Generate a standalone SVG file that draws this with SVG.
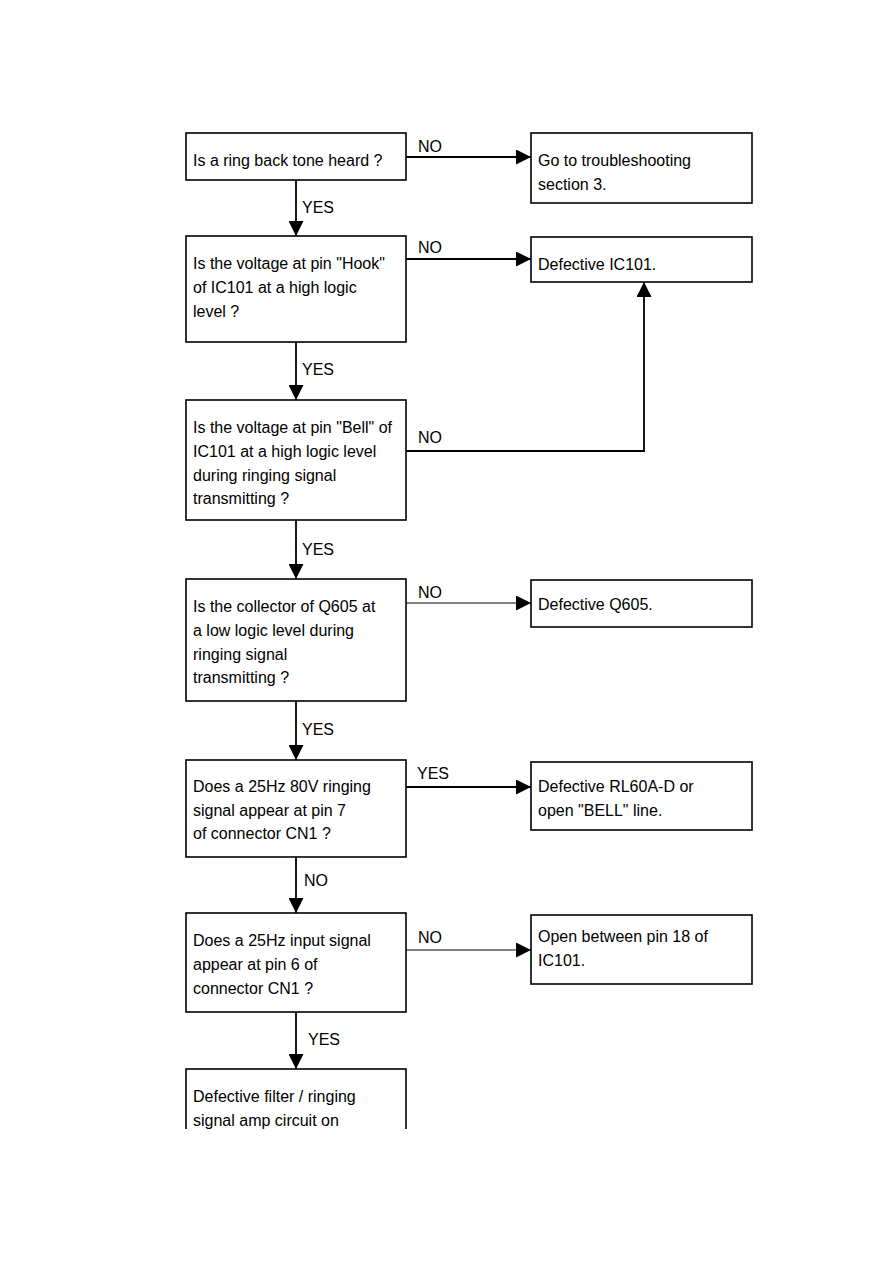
<svg xmlns="http://www.w3.org/2000/svg" width="893" height="1263" viewBox="0 0 893 1263">
<style>
.box{fill:#fff;stroke:#000;stroke-width:1.6}
.t{font-family:"Liberation Sans",Arial,sans-serif;font-size:16px;fill:#000}
.c{stroke:#000;stroke-width:1.8;fill:none}
.thin{stroke-width:1}
</style>
<defs>
<marker id="ah" viewBox="0 0 10 10" refX="10" refY="5" markerWidth="15" markerHeight="15" markerUnits="userSpaceOnUse" orient="auto">
<path d="M0,0 L10,5 L0,10 Z" fill="#000"/>
</marker>
<clipPath id="cut"><rect x="0" y="0" width="893" height="1129"/></clipPath>
</defs>
<rect width="893" height="1263" fill="#fff"/>
<g id="connectors">
<path class="c" d="M406,157 H531" marker-end="url(#ah)"/>
<text class="t" x="418" y="152">NO</text>
<path class="c" d="M296,180 V236" marker-end="url(#ah)"/>
<text class="t" x="302" y="213">YES</text>
<path class="c" d="M406,259 H531" marker-end="url(#ah)"/>
<text class="t" x="418" y="253">NO</text>
<path class="c" d="M296,342 V400" marker-end="url(#ah)"/>
<text class="t" x="302" y="375">YES</text>
<path class="c" d="M406,451 H644 V282" marker-end="url(#ah)"/>
<text class="t" x="418" y="443">NO</text>
<path class="c" d="M296,520 V579" marker-end="url(#ah)"/>
<text class="t" x="302" y="555">YES</text>
<path class="c thin" d="M406,603 H531" marker-end="url(#ah)"/>
<text class="t" x="418" y="598">NO</text>
<path class="c" d="M296,701 V760" marker-end="url(#ah)"/>
<text class="t" x="302" y="735">YES</text>
<path class="c" d="M406,787 H531" marker-end="url(#ah)"/>
<text class="t" x="417" y="779">YES</text>
<path class="c" d="M296,857 V913" marker-end="url(#ah)"/>
<text class="t" x="304" y="886">NO</text>
<path class="c thin" d="M406,950 H531" marker-end="url(#ah)"/>
<text class="t" x="418" y="943">NO</text>
<path class="c" d="M296,1012 V1069" marker-end="url(#ah)"/>
<text class="t" x="308" y="1045">YES</text>
</g>
<g id="n1"><rect class="box" x="186" y="133" width="220" height="47"/>
<text class="t" x="193" y="166">Is a ring back tone heard ?</text></g>
<g id="n2"><rect class="box" x="531" y="133" width="221" height="70"/>
<text class="t" x="538" y="166">Go to troubleshooting</text>
<text class="t" x="538" y="190">section 3.</text></g>
<g id="n3"><rect class="box" x="186" y="236" width="220" height="106"/>
<text class="t" x="193" y="269">Is the voltage at pin "Hook"</text>
<text class="t" x="193" y="293">of IC101 at a high logic</text>
<text class="t" x="193" y="317">level ?</text></g>
<g id="n4"><rect class="box" x="531" y="237" width="221" height="45"/>
<text class="t" x="538" y="270">Defective IC101.</text></g>
<g id="n5"><rect class="box" x="186" y="400" width="220" height="120"/>
<text class="t" x="193" y="433">Is the voltage at pin "Bell" of</text>
<text class="t" x="193" y="457">IC101 at a high logic level</text>
<text class="t" x="193" y="481">during ringing signal</text>
<text class="t" x="193" y="504">transmitting ?</text></g>
<g id="n6"><rect class="box" x="186" y="579" width="220" height="122"/>
<text class="t" x="193" y="612">Is the collector of Q605 at</text>
<text class="t" x="193" y="636">a low logic level during</text>
<text class="t" x="193" y="660">ringing signal</text>
<text class="t" x="193" y="683">transmitting ?</text></g>
<g id="n7"><rect class="box" x="531" y="580" width="221" height="47"/>
<text class="t" x="538" y="610">Defective Q605.</text></g>
<g id="n8"><rect class="box" x="186" y="760" width="220" height="97"/>
<text class="t" x="193" y="792">Does a 25Hz 80V ringing</text>
<text class="t" x="193" y="816">signal appear at pin 7</text>
<text class="t" x="193" y="839">of connector CN1 ?</text></g>
<g id="n9"><rect class="box" x="531" y="762" width="221" height="68"/>
<text class="t" x="538" y="792">Defective RL60A-D or</text>
<text class="t" x="538" y="816">open "BELL" line.</text></g>
<g id="n10"><rect class="box" x="186" y="913" width="220" height="99"/>
<text class="t" x="193" y="946">Does a 25Hz input signal</text>
<text class="t" x="193" y="970">appear at pin 6 of</text>
<text class="t" x="193" y="994">connector CN1 ?</text></g>
<g id="n11"><rect class="box" x="531" y="915" width="221" height="69"/>
<text class="t" x="538" y="942">Open between pin 18 of</text>
<text class="t" x="538" y="966">IC101.</text></g>
<g id="n12" clip-path="url(#cut)"><rect class="box" x="186" y="1069" width="220" height="120"/>
<text class="t" x="193" y="1102">Defective filter / ringing</text>
<text class="t" x="193" y="1126">signal amp circuit on</text></g>
</svg>
